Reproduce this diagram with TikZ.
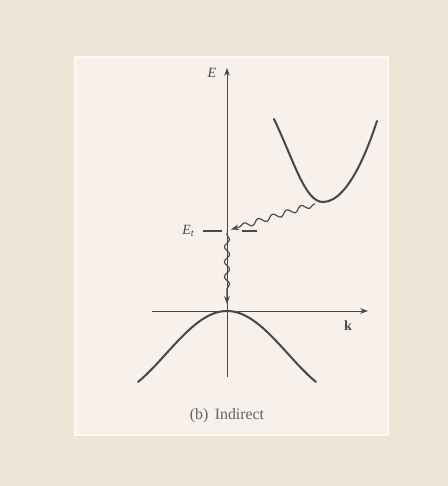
\documentclass[tikz,border=0pt]{standalone}
\usetikzlibrary{decorations.pathmorphing,arrows.meta,calc,positioning}
\usepackage{xcolor}
\usepackage{fontspec}
\setmainfont{Liberation Serif}
\definecolor{scanBack}{HTML}{EDE6D8}
\definecolor{scanPage}{HTML}{F7F0EB}
\definecolor{scanRim} {HTML}{FDFBF1}
\definecolor{scanInk} {HTML}{4A4745}

\begin{document}
\begin{tikzpicture}[
  every node/.style ={font=\footnotesize, text=scanInk},
  axis/.style       ={line width=0.55pt, scanInk, -{Stealth[length=4.5pt, width=3.2pt]}},
  band/.style       ={line width=1.15pt, scanInk, line cap=round},
  level/.style      ={line width=0.65pt, scanInk},
  wave/.style       ={line width=0.65pt, scanInk, -{Stealth[length=4.5pt, width=3.2pt]}, decorate,
                      decoration={snake, amplitude=1.5pt, segment length=8.5pt, pre length=1pt, post length=5pt}},
  lbl/.style        ={font=\footnotesize\itshape, text=scanInk},
  captxt/.style     ={font=\fontsize{9}{11}\selectfont, text=scanInk!85},
]

\useasboundingbox (0,0) rectangle (8.96,9.72);
\fill[scanBack] (0,0) rectangle (8.96,9.72);
\filldraw[fill=scanPage, draw=scanRim, line width=1.2pt] (1.50,1.02) rectangle (7.76,8.58);

\def\xO{4.54}\def\yO{3.50}\def\yTrap{5.10}

% axes
\coordinate (o) at (\xO,\yO);
\coordinate (ebot) at (\xO,2.18);
\coordinate (etop) at (\xO,8.36);
\coordinate (kl) at (3.04,\yO);
\coordinate (kr) at (7.36,\yO);
\draw[axis] (ebot) -- (etop);
\draw[axis] (kl) -- (kr);
\node[lbl] (elbl) at (4.24,8.26) {E};
\node (klbl) at (6.96,3.20) {$\mathbf{k}$};

% valence band
\draw[band] plot[domain=-1.78:1.78, smooth, samples=41]
  ({\xO+\x}, {\yO-0.852*(1-cos(deg(2.3*\x/1.78)))});

% conduction band
\coordinate (cbmin) at (6.46,5.68);
\draw[band] (5.48,7.34) .. controls (5.88,6.50) and (6.10,5.68) .. (cbmin)
  parabola (7.54,7.30);

% trap level
\coordinate (trap) at (\xO,\yTrap);
\coordinate (tl1) at (4.06,\yTrap);
\coordinate (tl2) at (4.44,\yTrap);
\coordinate (tr1) at (4.84,\yTrap);
\coordinate (tr2) at (5.14,\yTrap);
\draw[level] (tl1) -- (tl2);
\draw[level] (tr1) -- (tr2);
\node[lbl, anchor=east] (etlbl) at (4.02,\yTrap) {E\textsubscript{t}};

% transitions
\coordinate (cbout) at (6.30,5.64);
\coordinate (trapin) at (4.62,5.13);
\coordinate (trapout) at (\xO,5.06);
\coordinate (vbin) at (\xO,3.64);
\draw[wave] (cbout) -- (trapin);
\draw[wave] (trapout) -- (vbin);

\node[captxt] (caption) at (\xO,1.40) {(b)\, Indirect};

\end{tikzpicture}
\end{document}
